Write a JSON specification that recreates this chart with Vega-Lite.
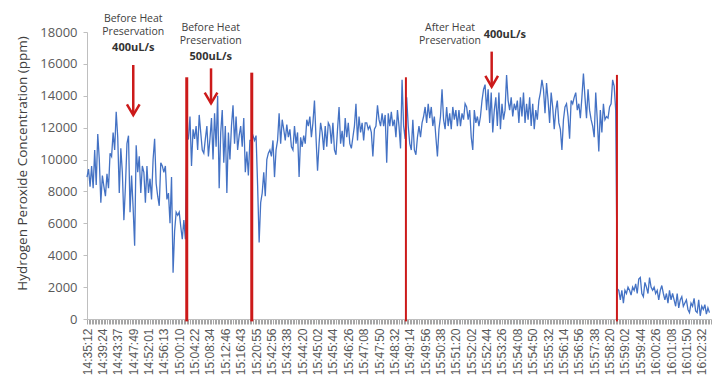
{
  "$schema": "https://vega.github.io/schema/vega-lite/v6.json",
  "width": 624,
  "height": 287,
  "autosize": {"type": "none"},
  "padding": {"left": 87, "top": 32, "right": 14, "bottom": 72},
  "background": "white",
  "config": {"view": {"stroke": null}},
  "datasets": {
    "s": [
      {"i":0,"v":8900},{"i":1,"v":9400},{"i":2,"v":8300},{"i":3,"v":9600},{"i":4,"v":8200},{"i":5,"v":10600},{"i":6,"v":8400},{"i":7,"v":11600},{"i":8,"v":10000},{"i":9,"v":7300},
      {"i":10,"v":9000},{"i":11,"v":8300},{"i":12,"v":7700},{"i":13,"v":9100},{"i":14,"v":8200},{"i":15,"v":10400},{"i":16,"v":10200},{"i":17,"v":11700},{"i":18,"v":10600},{"i":19,"v":13000},
      {"i":20,"v":11400},{"i":21,"v":7900},{"i":22,"v":10700},{"i":23,"v":9200},{"i":24,"v":6200},{"i":25,"v":8300},{"i":26,"v":11000},{"i":27,"v":11500},{"i":28,"v":6700},{"i":29,"v":9000},
      {"i":30,"v":7000},{"i":31,"v":4600},{"i":32,"v":10900},{"i":33,"v":9200},{"i":34,"v":10200},{"i":35,"v":7900},{"i":36,"v":9600},{"i":37,"v":9200},{"i":38,"v":7300},{"i":39,"v":9600},
      {"i":40,"v":7900},{"i":41,"v":8800},{"i":42,"v":7500},{"i":43,"v":10000},{"i":44,"v":11300},{"i":45,"v":8500},{"i":46,"v":7700},{"i":47,"v":7100},{"i":48,"v":9800},{"i":49,"v":9600},
      {"i":50,"v":9200},{"i":51,"v":9600},{"i":52,"v":7500},{"i":53,"v":7900},{"i":54,"v":6000},{"i":55,"v":8900},{"i":56,"v":2900},{"i":57,"v":5500},{"i":58,"v":6700},{"i":59,"v":6500},
      {"i":60,"v":6700},{"i":61,"v":5800},{"i":62,"v":5000},{"i":63,"v":6200},{"i":64,"v":5000},
      {"i":65,"v":11200},{"i":66,"v":11300},{"i":67,"v":12700},{"i":68,"v":9600},{"i":69,"v":11900},{"i":70,"v":11300},{"i":71,"v":12100},{"i":72,"v":10600},{"i":73,"v":12800},{"i":74,"v":11700},
      {"i":75,"v":10600},{"i":76,"v":10400},{"i":77,"v":11300},{"i":78,"v":12100},{"i":79,"v":10200},{"i":80,"v":11300},{"i":81,"v":12600},{"i":82,"v":10000},{"i":83,"v":12900},{"i":84,"v":10800},
      {"i":85,"v":14000},{"i":86,"v":8200},{"i":87,"v":11700},{"i":88,"v":13100},{"i":89,"v":9800},{"i":90,"v":12100},{"i":91,"v":7900},{"i":92,"v":11700},{"i":93,"v":10000},{"i":94,"v":12100},
      {"i":95,"v":13400},{"i":96,"v":11000},{"i":97,"v":12700},{"i":98,"v":10600},{"i":99,"v":11500},{"i":100,"v":12100},{"i":101,"v":10800},{"i":102,"v":12600},{"i":103,"v":9200},{"i":104,"v":10500},
      {"i":105,"v":9000},{"i":106,"v":11200},
      {"i":107,"v":11200},{"i":108,"v":11500},{"i":109,"v":11200},{"i":110,"v":11500},{"i":111,"v":8400},{"i":112,"v":4800},{"i":113,"v":7300},{"i":114,"v":7900},{"i":115,"v":9200},{"i":116,"v":7700},
      {"i":117,"v":10000},{"i":118,"v":10400},{"i":119,"v":10600},{"i":120,"v":10200},{"i":121,"v":11200},{"i":122,"v":8900},{"i":123,"v":10600},{"i":124,"v":11200},{"i":125,"v":12900},{"i":126,"v":11000},
      {"i":127,"v":12500},{"i":128,"v":11900},{"i":129,"v":11200},{"i":130,"v":12200},{"i":131,"v":11400},{"i":132,"v":11900},{"i":133,"v":10800},{"i":134,"v":10600},{"i":135,"v":12100},{"i":136,"v":11000},
      {"i":137,"v":11700},{"i":138,"v":8900},{"i":139,"v":11400},{"i":140,"v":10800},{"i":141,"v":11500},{"i":142,"v":11000},{"i":143,"v":12500},{"i":144,"v":12100},{"i":145,"v":12700},{"i":146,"v":11400},
      {"i":147,"v":12300},{"i":148,"v":13700},{"i":149,"v":11400},{"i":150,"v":9300},{"i":151,"v":11000},{"i":152,"v":12300},{"i":153,"v":11700},{"i":154,"v":10600},{"i":155,"v":12100},{"i":156,"v":10800},
      {"i":157,"v":12300},{"i":158,"v":12100},{"i":159,"v":11000},{"i":160,"v":12300},{"i":161,"v":10600},{"i":162,"v":10300},{"i":163,"v":11900},{"i":164,"v":13300},{"i":165,"v":11000},{"i":166,"v":11800},
      {"i":167,"v":10800},{"i":168,"v":12600},{"i":169,"v":11400},{"i":170,"v":12300},{"i":171,"v":11000},{"i":172,"v":10700},{"i":173,"v":11400},{"i":174,"v":12100},{"i":175,"v":13500},{"i":176,"v":11200},
      {"i":177,"v":12700},{"i":178,"v":11700},{"i":179,"v":12300},{"i":180,"v":11200},{"i":181,"v":12300},{"i":182,"v":12300},{"i":183,"v":11900},{"i":184,"v":12100},{"i":185,"v":11700},{"i":186,"v":10200},
      {"i":187,"v":11900},{"i":188,"v":12100},{"i":189,"v":13400},{"i":190,"v":12500},{"i":191,"v":12100},{"i":192,"v":12900},{"i":193,"v":12100},{"i":194,"v":12800},{"i":195,"v":9800},{"i":196,"v":12900},
      {"i":197,"v":12100},{"i":198,"v":13000},{"i":199,"v":12100},{"i":200,"v":12500},{"i":201,"v":11400},{"i":202,"v":13100},{"i":203,"v":12100},{"i":204,"v":10700},{"i":205,"v":15000},{"i":206,"v":12100},
      {"i":207,"v":11300},
      {"i":208,"v":13900},{"i":209,"v":12100},{"i":210,"v":11000},{"i":211,"v":10600},{"i":212,"v":12500},{"i":213,"v":10600},{"i":214,"v":10300},{"i":215,"v":11400},{"i":216,"v":12100},{"i":217,"v":11400},
      {"i":218,"v":12300},{"i":219,"v":12700},{"i":220,"v":13300},{"i":221,"v":12300},{"i":222,"v":13500},{"i":223,"v":12600},{"i":224,"v":13300},{"i":225,"v":12100},{"i":226,"v":12700},{"i":227,"v":11400},
      {"i":228,"v":10200},{"i":229,"v":11900},{"i":230,"v":12700},{"i":231,"v":14400},{"i":232,"v":12500},{"i":233,"v":11900},{"i":234,"v":13300},{"i":235,"v":12100},{"i":236,"v":12900},{"i":237,"v":11900},
      {"i":238,"v":13300},{"i":239,"v":12500},{"i":240,"v":13100},{"i":241,"v":12100},{"i":242,"v":13100},{"i":243,"v":12100},{"i":244,"v":12900},{"i":245,"v":12500},{"i":246,"v":13500},{"i":247,"v":13300},
      {"i":248,"v":12500},{"i":249,"v":13100},{"i":250,"v":11400},{"i":251,"v":10600},{"i":252,"v":13100},{"i":253,"v":12300},{"i":254,"v":12700},{"i":255,"v":12100},{"i":256,"v":12700},{"i":257,"v":13700},
      {"i":258,"v":14400},{"i":259,"v":14700},{"i":260,"v":13100},{"i":261,"v":14400},{"i":262,"v":12300},{"i":263,"v":14200},{"i":264,"v":11700},{"i":265,"v":13100},{"i":266,"v":13900},{"i":267,"v":12100},
      {"i":268,"v":14200},{"i":269,"v":11900},{"i":270,"v":13500},{"i":271,"v":12500},{"i":272,"v":13100},{"i":273,"v":15300},{"i":274,"v":13700},{"i":275,"v":13100},{"i":276,"v":13900},{"i":277,"v":12700},
      {"i":278,"v":13500},{"i":279,"v":13100},{"i":280,"v":13700},{"i":281,"v":12300},{"i":282,"v":13900},{"i":283,"v":12700},{"i":284,"v":14200},{"i":285,"v":12300},{"i":286,"v":13500},{"i":287,"v":12500},
      {"i":288,"v":13900},{"i":289,"v":12100},{"i":290,"v":13500},{"i":291,"v":11900},{"i":292,"v":13100},{"i":293,"v":12500},{"i":294,"v":13700},{"i":295,"v":14200},{"i":296,"v":15000},{"i":297,"v":14400},
      {"i":298,"v":12900},{"i":299,"v":14800},{"i":300,"v":13700},{"i":301,"v":12300},{"i":302,"v":14200},{"i":303,"v":13300},{"i":304,"v":11900},{"i":305,"v":13100},{"i":306,"v":13700},{"i":307,"v":12300},
      {"i":308,"v":11900},{"i":309,"v":10600},{"i":310,"v":12500},{"i":311,"v":13300},{"i":312,"v":13500},{"i":313,"v":12700},{"i":314,"v":11300},{"i":315,"v":13700},{"i":316,"v":13500},{"i":317,"v":13900},
      {"i":318,"v":14200},{"i":319,"v":13100},{"i":320,"v":13500},{"i":321,"v":12600},{"i":322,"v":13900},{"i":323,"v":15400},{"i":324,"v":13900},{"i":325,"v":12600},{"i":326,"v":14400},{"i":327,"v":13100},
      {"i":328,"v":12500},{"i":329,"v":12100},{"i":330,"v":11400},{"i":331,"v":14200},{"i":332,"v":12500},{"i":333,"v":10500},{"i":334,"v":13100},{"i":335,"v":11700},{"i":336,"v":13500},{"i":337,"v":12500},
      {"i":338,"v":12700},{"i":339,"v":12600},{"i":340,"v":13300},{"i":341,"v":13500},{"i":342,"v":15000},{"i":343,"v":14600},{"i":344,"v":13100},
      {"i":345,"v":1900},{"i":346,"v":1800},{"i":347,"v":1200},{"i":348,"v":1800},{"i":349,"v":1000},{"i":350,"v":1800},{"i":351,"v":1600},{"i":352,"v":2000},{"i":353,"v":1800},{"i":354,"v":1500},
      {"i":355,"v":2000},{"i":356,"v":1800},{"i":357,"v":2200},{"i":358,"v":1600},{"i":359,"v":2500},{"i":360,"v":2600},{"i":361,"v":1600},{"i":362,"v":1400},{"i":363,"v":2300},{"i":364,"v":2000},
      {"i":365,"v":1600},{"i":366,"v":2600},{"i":367,"v":2000},{"i":368,"v":1800},{"i":369,"v":2000},{"i":370,"v":1600},{"i":371,"v":1800},{"i":372,"v":1200},{"i":373,"v":1800},{"i":374,"v":2100},
      {"i":375,"v":1600},{"i":376,"v":1200},{"i":377,"v":1600},{"i":378,"v":1000},{"i":379,"v":1800},{"i":380,"v":1200},{"i":381,"v":1600},{"i":382,"v":1200},{"i":383,"v":800},{"i":384,"v":1600},
      {"i":385,"v":700},{"i":386,"v":1200},{"i":387,"v":1400},{"i":388,"v":800},{"i":389,"v":1000},{"i":390,"v":1200},{"i":391,"v":600},{"i":392,"v":400},{"i":393,"v":1000},{"i":394,"v":800},
      {"i":395,"v":1300},{"i":396,"v":500},{"i":397,"v":400},{"i":398,"v":1200},{"i":399,"v":200},{"i":400,"v":800},{"i":401,"v":600},{"i":402,"v":900},{"i":403,"v":300},{"i":404,"v":700},{"i":405,"v":400}
    ],
    "r": [
      {"i": 64.9, "v": 15160, "g": "a"},
      {"i": 107.2, "v": 15450, "g": "a"},
      {"i": 207.5, "v": 15160, "g": "b"},
      {"i": 344.8, "v": 15310, "g": "b"}
    ],
    "a": [
      {"i": 30.1, "v": 15930, "tip": 12790},
      {"i": 80.7, "v": 15720, "tip": 13530},
      {"i": 263.3, "v": 16770, "tip": 14570}
    ],
    "h": [
      {"i": 30.1, "v": 12790},
      {"i": 80.7, "v": 13530},
      {"i": 263.3, "v": 14570}
    ],
    "t": [
      {"i": 30.1, "v": 19130, "t": ["Before Heat", "Preservation"]},
      {"i": 80.5, "v": 18560, "t": ["Before Heat", "Preservation"]},
      {"i": 236.2, "v": 18560, "t": ["After Heat", "Preservation"]}
    ],
    "tb": [
      {"i": 30.1, "v": 16980, "t": "400uL/s"},
      {"i": 80.5, "v": 16440, "t": "500uL/s"},
      {"i": 271.9, "v": 17810, "t": "400uL/s"}
    ]
  },
  "encoding": {
    "x": {
      "field": "i", "type": "quantitative", "title": null,
      "scale": {"domain": [0, 406], "nice": false, "zero": false},
      "axis": {
        "tickCount": 406,
        "labelExpr": "datum.value % 10 == 0 ? ['14:35:12','14:39:24','14:43:37','14:47:49','14:52:01','14:56:13','15:00:10','15:04:22','15:08:34','15:12:46','15:16:43','15:20:55','15:42:56','15:43:38','15:44:20','15:45:02','15:45:44','15:46:26','15:47:08','15:47:50','15:48:32','15:49:14','15:49:56','15:50:38','15:51:20','15:52:02','15:52:44','15:53:26','15:54:08','15:54:50','15:55:32','15:56:14','15:56:56','15:57:38','15:58:20','15:59:02','15:59:44','16:00:26','16:01:08','16:01:50','16:02:32'][datum.value / 10] : ''",
        "labelAngle": -90,
        "labelOverlap": false,
        "labelFlush": false,
        "labelBound": false,
        "labelFont": "Liberation Sans",
        "labelFontSize": 12,
        "labelColor": "#595959",
        "labelPadding": 4,
        "tickSize": 5,
        "tickColor": "#a6a6a6",
        "tickWidth": 1,
        "domainColor": "#bfbfbf",
        "grid": false
      }
    },
    "y": {
      "field": "v", "type": "quantitative",
      "title": "Hydrogen Peroxide Concentration (ppm)",
      "scale": {"domain": [0, 18000], "nice": false},
      "axis": {
        "values": [0, 2000, 4000, 6000, 8000, 10000, 12000, 14000, 16000, 18000],
        "format": "d",
        "labelOverlap": false,
        "labelFlush": false,
        "grid": false,
        "labelFont": "Open Sans",
        "labelFontSize": 13,
        "labelColor": "#595959",
        "labelPadding": 6,
        "tickSize": 4,
        "tickColor": "#bfbfbf",
        "domainColor": "#bfbfbf",
        "titleFont": "Open Sans",
        "titleFontSize": 13.5,
        "titleFontWeight": "normal",
        "titleColor": "#404040",
        "titleAngle": -90,
        "titleX": -65,
        "titleY": 131,
        "titleAlign": "center",
        "titleBaseline": "middle"
      }
    }
  },
  "layer": [
    {
      "data": {"name": "s"},
      "mark": {"type": "line", "color": "#4472C4", "strokeWidth": 1.3}
    },
    {
      "data": {"name": "r"},
      "mark": {"type": "rule", "color": "#cc1a1a"},
      "encoding": {
        "y2": {"datum": -150},
        "strokeWidth": {"field": "g", "type": "nominal", "scale": {"domain": ["a", "b"], "range": [3, 2]}, "legend": null}
      }
    },
    {
      "data": {"name": "a"},
      "mark": {"type": "rule", "color": "#cc1a1a", "strokeWidth": 2.5},
      "encoding": {
        "y2": {"field": "tip"}
      }
    },
    {
      "data": {"name": "h"},
      "mark": {"type": "point", "shape": "M-1,-1.7L0,0L1,-1.7", "filled": false, "color": "#cc1a1a", "strokeWidth": 2.5, "size": 160, "opacity": 1}
    },
    {
      "data": {"name": "t"},
      "mark": {"type": "text", "font": "Open Sans", "fontSize": 10.5, "lineHeight": 13, "color": "#404040", "baseline": "top", "align": "center"},
      "encoding": {
        "text": {"field": "t"}
      }
    },
    {
      "data": {"name": "tb"},
      "mark": {"type": "text", "font": "Open Sans", "fontSize": 11, "fontWeight": "bold", "color": "#333333", "baseline": "middle", "align": "center"},
      "encoding": {
        "text": {"field": "t"}
      }
    }
  ]
}
